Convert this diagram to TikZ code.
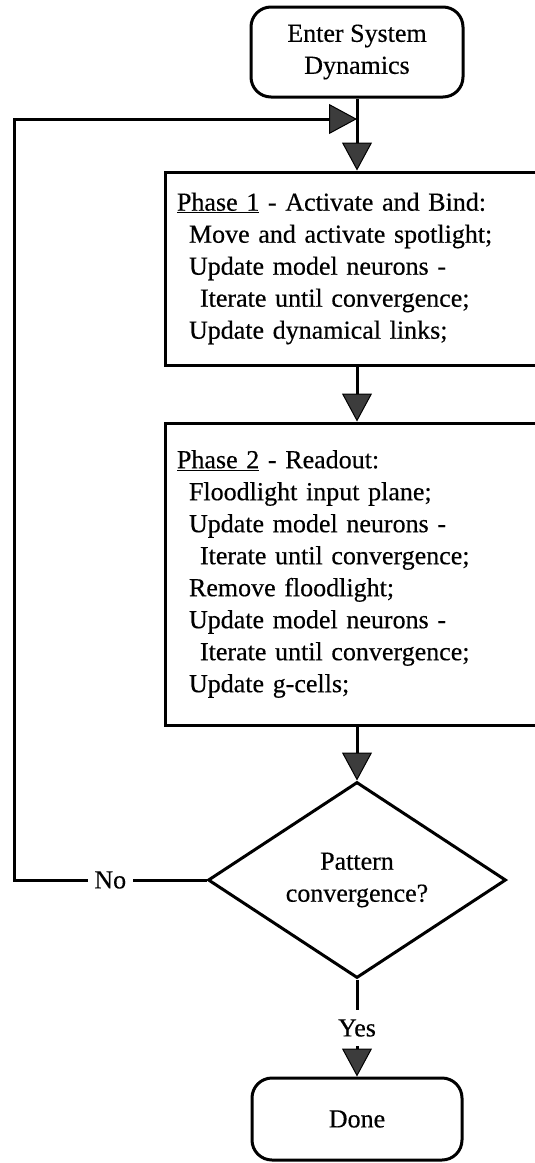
\documentclass[tikz,border=0pt]{standalone}
\usepackage{fontspec}
\setmainfont{Liberation Serif}[RawFeature={embolden=0.35}]
\usetikzlibrary{arrows.meta,shapes.geometric}
\definecolor{arrowgray}{HTML}{3C3C3C}
\begin{document}
\begin{tikzpicture}[x=1pt,y=-1pt,
  lw/.style={line width=3pt},
  txt/.style={font=\fontsize{26}{32}\selectfont},
  termbox/.style={draw,lw,rounded corners=20pt,align=center,txt,inner sep=0pt},
  procbox/.style={draw,lw,align=left,txt,inner xsep=12pt,inner ysep=0pt,text width=360pt},
  decbox/.style={draw,lw,diamond,minimum width=298pt,minimum height=196pt,aspect=1.52,align=center,txt,inner sep=0pt},
  conn/.style={lw,-{Triangle[length=28pt,width=30pt,fill=arrowgray,line width=1pt]}},
  lbl/.style={fill=white,txt,inner xsep=6.5pt,inner ysep=9pt},
]
\path[clip,use as bounding box] (0,0) rectangle (535,1163);
\fill[white] (0,0) rectangle (535,1163);

\node[termbox,minimum width=212pt,minimum height=90pt] (enter) at (357,52) {Enter System\\Dynamics};

\node[procbox,minimum height=193pt] (p1) at (357,268.5) {\underline{Phase 1} - Activate and Bind:\\
\hspace*{12pt}Move and activate spotlight;\\
\hspace*{12pt}Update model neurons -\\
\hspace*{23pt}Iterate until convergence;\\
\hspace*{12pt}Update dynamical links;};

\node[procbox,minimum height=302pt] (p2) at (357,574) {\underline{Phase 2} - Readout:\\
\hspace*{12pt}Floodlight input plane;\\
\hspace*{12pt}Update model neurons -\\
\hspace*{23pt}Iterate until convergence;\\
\hspace*{12pt}Remove floodlight;\\
\hspace*{12pt}Update model neurons -\\
\hspace*{23pt}Iterate until convergence;\\
\hspace*{12pt}Update g-cells;};

\node[decbox] (dec) at (357,880) {Pattern\\convergence?};

\node[termbox,minimum width=210pt,minimum height=82pt] (done) at (357,1119) {Done};

\coordinate (fbl) at (14,119);
\coordinate (join) at (357,119);

\draw[conn] (enter) -- (p1);
\draw[conn] (p1) -- (p2);
\draw[conn] (p2) -- (dec);
\draw[conn] (dec) -- node[lbl] {Yes} (done);
\draw[conn] (dec.west) -- node[lbl] {No} (dec.west -| fbl) -- (fbl) -- (join);
\end{tikzpicture}
\end{document}
